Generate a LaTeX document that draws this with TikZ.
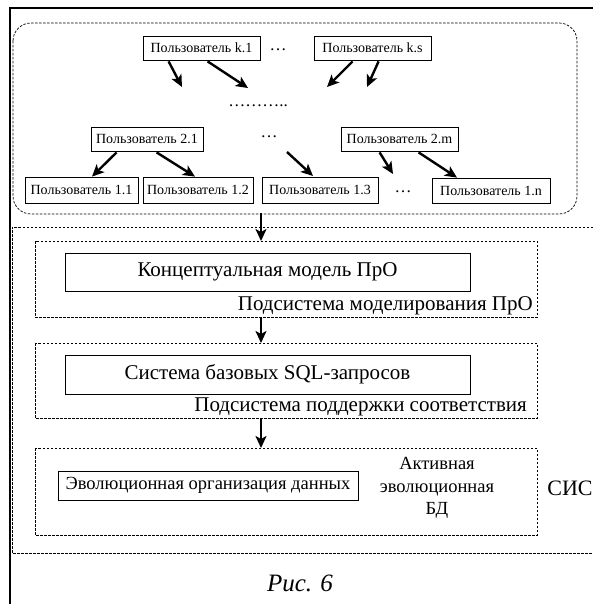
\documentclass[tikz,border=0pt]{standalone}
\usepackage{fontspec}
\setmainfont{Liberation Serif}
\usetikzlibrary{arrows.meta,positioning,calc}
\tikzset{
  ubox/.style={draw, line width=0.8pt, inner sep=0pt, font=\fontsize{14}{16}\selectfont},
  bigbox/.style={draw, line width=0.8pt, inner sep=0pt, font=\fontsize{21}{24}\selectfont},
  subbox/.style={draw, line width=0.7pt, dash pattern=on 2.5pt off 1.5pt},
  arr/.style={-{Stealth[length=12pt,width=11pt,inset=3pt]}, line width=2.4pt},
  lbl/.style={inner sep=0pt, font=\fontsize{21}{24}\selectfont},
  dotsl/.style={inner sep=0pt, font=\fontsize{17}{19}\selectfont}
}
\begin{document}
\begin{tikzpicture}[x=1pt,y=-1pt]
\useasboundingbox (0,0) rectangle (593,604);
% outer frame
\draw[line width=2pt] (10,604) -- (10,8) -- (593,8);
% rounded dashed group
\draw[subbox, rounded corners=18pt] (13,23) rectangle (577,214);
% users
\node[ubox, minimum width=117pt, minimum height=24pt] (k1) at (201.5,48) {Пользователь k.1};
\node[dotsl] (dk) at (278,50) {\dots};
\node[ubox, minimum width=117pt, minimum height=24pt] (ks) at (372.5,48) {Пользователь k.s};
\node[dotsl] (dd) at (258,106) {\dots\dots\dots..};
\node[ubox, minimum width=112pt, minimum height=24pt] (u21) at (147,139) {Пользователь 2.1};
\node[dotsl] (d2) at (269,137) {\dots};
\node[ubox, minimum width=117pt, minimum height=24pt] (u2m) at (399.5,139) {Пользователь 2.m};
\node[ubox, minimum width=113pt, minimum height=26pt] (u11) at (81.5,190) {Пользователь 1.1};
\node[ubox, minimum width=110pt, minimum height=26pt] (u12) at (198,190) {Пользователь 1.2};
\node[ubox, minimum width=116pt, minimum height=26pt] (u13) at (320,190) {Пользователь 1.3};
\node[dotsl] (d1) at (403,192) {\dots};
\node[ubox, minimum width=118pt, minimum height=25pt] (u1n) at (491,190.5) {Пользователь 1.n};
% free arrow ends
\coordinate (a1) at (182,87);
\coordinate (a2) at (248,88);
\coordinate (a3) at (327,87);
\coordinate (a4) at (367,87);
\coordinate (a5) at (313,176);
\coordinate (a6) at (393,174);
\coordinate (s5) at (287,152);
% arrows top
\draw[arr] ($(k1.south west)+(26,1)$) -- (a1);
\draw[arr] ($(k1.south west)+(65,1)$) -- (a2);
\draw[arr] ($(ks.south west)+(39,1)$) -- (a3);
\draw[arr] ($(ks.south west)+(65,1)$) -- (a4);
\draw[arr] ($(u21.south west)+(26,1)$) -- (u11.north -| 92,0);
\draw[arr] ($(u21.south west)+(66,1)$) -- (u12.north -| 195,0);
\draw[arr] (s5) -- (a5);
\draw[arr] ($(u2m.south west)+(39,1)$) -- (a6);
\draw[arr] ($(u2m.south west)+(78,1)$) -- (u1n.north -| 457,0);
% system box
\draw[subbox] (593,227) -- (12,227) -- (12,553) -- (593,553);
\coordinate (grpb) at (261,213);
% subsystems
\draw[subbox] (35,241) rectangle (537,317);
\node[bigbox, minimum width=405pt, minimum height=38pt] (cm) at (267.5,272) {Концептуальная модель ПрО};
\node[lbl, anchor=east] (l1) at (533,306) {Подсистема моделирования ПрО};
\coordinate (s1t) at (261,241);
\coordinate (s1b) at (261,317);
\draw[subbox] (35,343) rectangle (537,418);
\node[bigbox, minimum width=405pt, minimum height=39pt] (sq) at (267.5,374.5) {Система базовых SQL-запросов};
\node[lbl, anchor=east] (l2) at (527,407) {Подсистема поддержки соответствия};
\coordinate (s2t) at (261,343);
\coordinate (s2b) at (261,418);
\draw[subbox] (35,448) rectangle (537,535);
\node[draw, line width=0.8pt, inner sep=0pt, minimum width=300pt, minimum height=29pt, font=\fontsize{18.5}{21}\selectfont] (ev) at (208,485.5) {Эволюционная организация данных};
\node[lbl, align=center, font=\fontsize{18.5}{22.5}\selectfont] (ab) at (437,488) {Активная\\эволюционная\\БД};
\node[lbl, font=\fontsize{22}{24}\selectfont] (sis) at (570,488) {СИС};
\coordinate (s3t) at (261,448);
\draw[arr] (grpb) -- (s1t);
\draw[arr] (s1b) -- (s2t);
\draw[arr] (s2b) -- (s3t);
\node[lbl, font=\fontsize{25}{27}\selectfont\itshape] (cap) at (300,583) {Рис. 6};
\end{tikzpicture}
\end{document}
